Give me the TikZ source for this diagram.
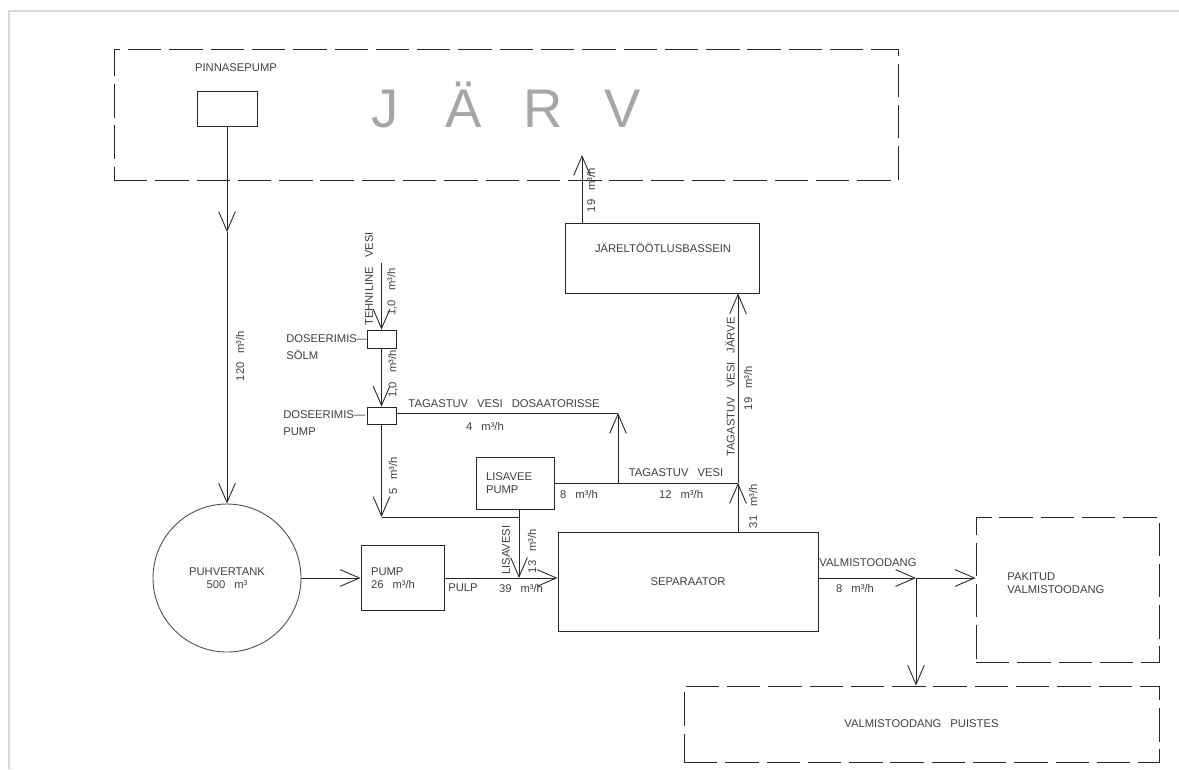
\documentclass[tikz,border=0pt]{standalone}
\usepackage{fontspec}
\setmainfont{Liberation Sans}
\usetikzlibrary{arrows,arrows.meta}
\newcommand{\pxu}{0.02cm}
\newcommand{\wsp}{\hspace{0.8em}}

\begin{document}
\begin{tikzpicture}[
x=0.02cm, y=-0.02cm,
lbl/.style={font=\fontsize{6.4}{7.6}\selectfont, text=black!75, inner sep=0pt},
vlbl/.style={lbl, rotate=90},
box/.style={draw=black!85, line width=0.5pt, rectangle, inner sep=0pt},
zone/.style={draw=black!85, line width=0.5pt, dash pattern=on 19pt off 4.5pt, inner sep=0pt},
pipe/.style={draw=black!85, line width=0.5pt},
arrow/.style={-{Straight Barb[length=11pt,width=9.5pt]}, line width=0.5pt, draw=black!85} ]

\useasboundingbox (0,0) rectangle (1179,769);
\draw[black!15, line width=0.8pt] (9,769) -- (9,11) -- (1179,11);

% lake
\node[zone, minimum width=784*\pxu, minimum height=131*\pxu] (Jarv) at (506,114.5) {};
\foreach \ch/\xx in {J/385,Ä/464,R/543,V/623}
  \node[font=\fontsize{31}{31}\selectfont, text=black!35, inner sep=0pt, anchor=base] (L\xx) at (\xx,127) {\ch};

\node[lbl] (PPl) at (236,68) {PINNASEPUMP};
\node[box, minimum width=60*\pxu, minimum height=35*\pxu] (PP) at (227,108.5) {};

\node[circle, draw=black!70, line width=0.5pt, minimum size=148*\pxu, lbl, align=center] (Tank) at (227,578) {PUHVERTANK\\500\wsp m³};

\node[box, lbl, minimum width=83*\pxu, minimum height=65*\pxu, text width=63*\pxu, align=left] (Pump) at (402.5,578) {PUMP\\26\wsp m³/h};

\node[box, lbl, minimum width=78*\pxu, minimum height=52*\pxu, text width=58*\pxu, align=left] (Lis) at (515,483) {LISAVEE\\PUMP};

\node[box, lbl, minimum width=260*\pxu, minimum height=99*\pxu] (Sep) at (688,581.5) {SEPARAATOR};

\node[box, minimum width=194*\pxu, minimum height=70*\pxu] (JB) at (662,258) {};
\node[lbl] (JBt) at (663,248) {JÄRELTÖÖTLUSBASSEIN};

\node[box, minimum width=29*\pxu, minimum height=18*\pxu] (DS) at (381.5,339) {};
\node[box, minimum width=29*\pxu, minimum height=17*\pxu] (DP) at (381.5,415.5) {};
\node[lbl, anchor=north west, align=left] (DSl) at (286,334) {DOSEERIMIS---\\[2pt]SÖLM};
\node[lbl, anchor=north west, align=left] (DPl) at (283,410) {DOSEERIMIS---\\[2pt]PUMP};

\node[zone, minimum width=183*\pxu, minimum height=145*\pxu] (Pak) at (1067.5,589.5) {};
\node[lbl, anchor=west, align=left] (Pakt) at (1007,583) {PAKITUD\\VALMISTOODANG};
\node[zone, lbl, minimum width=475*\pxu, minimum height=76*\pxu] (Puis) at (921.5,724) {VALMISTOODANG\wsp PUISTES};

\coordinate (M1) at (227,232);
\coordinate (J1) at (519,578);
\coordinate (K1) at (381.5,517);
\coordinate (K2) at (519,517);
\coordinate (K3) at (618,413);
\coordinate (K4) at (618,483);
\coordinate (K5) at (738,483);
\coordinate (K6) at (582,155);
\coordinate (K7) at (916,578);
\coordinate (T0) at (381.5,263);

\draw[arrow] (PP.south) -- (M1);
\draw[arrow] (M1) -- (Tank.north);
\draw[arrow] (Tank.east) -- (Pump.west);
\draw[pipe] (Pump.east) -- (J1);
\draw[arrow] (J1) -- (J1 -| Sep.west);
\draw[arrow] (J1 |- Lis.south) -- (J1);
\draw[arrow] (T0) -- (DS.north);
\draw[arrow] (DS.south) -- (DP.north);
\draw[arrow] (DP.south) -- (K1);
\draw[pipe] (K1) -- (K2);
\draw[pipe] (DP.east |- K3) -- (K3);
\draw[arrow] (K4) -- (K3);
\draw[pipe] (Lis.east |- K4) -- (K5);
\draw[arrow] (Sep.north -| K5) -- (K5);
\draw[arrow] (K5) -- (K5 |- JB.south);
\draw[arrow] (JB.north -| K6) -- (K6);
\draw[arrow] (Sep.east |- K7) -- (K7);
\draw[arrow] (K7) -- (K7 -| Pak.west);
\draw[arrow] (K7) -- (K7 |- Puis.north);

% flow labels
\node[vlbl] (f120) at (240,356) {120\wsp m³/h};
\node[vlbl] (tv) at (369,279) {TEHNILINE\wsp VESI};
\node[vlbl] (f10a) at (392,292) {1,0\wsp m³/h};
\node[vlbl] (f10b) at (393,374) {1,0\wsp m³/h};
\node[vlbl] (f5) at (393,476) {5\wsp m³/h};
\node[lbl] (tvd) at (504,404) {TAGASTUV\wsp VESI\wsp DOSAATORISSE};
\node[lbl] (f4) at (485,426) {4\wsp m³/h};
\node[lbl] (f8a) at (579,494) {8\wsp m³/h};
\node[lbl] (tvs) at (676,473) {TAGASTUV\wsp VESI};
\node[lbl] (f12) at (681,494) {12\wsp m³/h};
\node[vlbl] (tvj) at (730,387) {TAGASTUV\wsp VESI\wsp JÄRVE};
\node[vlbl] (f19a) at (748,388) {19\wsp m³/h};
\node[vlbl] (f31) at (753,506) {31\wsp m³/h};
\node[vlbl] (f19b) at (591,190) {19\wsp m³/h};
\node[vlbl] (lv) at (506,550) {LISAVESI};
\node[vlbl] (f13) at (532,551) {13\wsp m³/h};
\node[lbl] (pulp) at (463,588) {PULP};
\node[lbl] (f39) at (521,588) {39\wsp m³/h};
\node[lbl] (vt) at (868,563) {VALMISTOODANG};
\node[lbl] (f8b) at (855,588) {8\wsp m³/h};

\end{tikzpicture}
\end{document}
